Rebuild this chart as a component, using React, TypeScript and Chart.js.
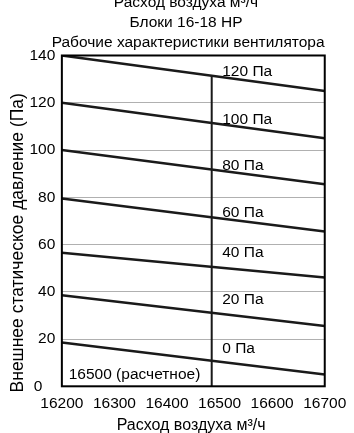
import React, { useEffect, useRef } from "react";
import { Chart, registerables } from "chart.js";

Chart.register(...registerables);

const titleLines = ["   Расход воздуха м³/ч", "   Блоки 16-18 HP", "    Рабочие характеристики вентилятора"];
const xAxisTitle = "Расход воздуха м³/ч ";
const yAxisTitle = "Внешнее статическое давление (Па)";
const xTicks = [16200, 16300, 16400, 16500, 16600, 16700];
const yTicks = [0, 20, 40, 60, 80, 100, 120, 140];
const flowRange = [16200, 16700];
const pressureLabels = ["120 Па", "100 Па", "80 Па", "60 Па", "40 Па", "20 Па", "0 Па"];
const startPressure = [140, 120, 100, 79.5, 56.5, 38.5, 18.5];
const endPressure = [125, 105, 85.5, 65.5, 46, 25.5, 5];
const labelPressure = [133, 113, 93.5, 73.5, 56.5, 36.5, 16];
const labelFlow = 16505;
const designFlow = 16485;
const designTop = 131.5;
const designLabel = "16500 (расчетное)";
const designLabelFlow = 16213;
const designLabelPressure = 4.7;

const FONT = "'Liberation Sans', Arial, sans-serif";

const textPlugin = {
  id: "textLabels",
  afterDatasetsDraw(chart: any) {
    const { ctx, scales } = chart;
    const x = scales.x;
    const y = scales.y;
    ctx.save();
    ctx.fillStyle = "#000";
    ctx.font = `15.5px ${FONT}`;
    ctx.textAlign = "left";
    ctx.textBaseline = "middle";
    pressureLabels.forEach((t, i) => {
      ctx.fillText(t, x.getPixelForValue(labelFlow), y.getPixelForValue(labelPressure[i]));
    });
    ctx.fillText(designLabel, x.getPixelForValue(designLabelFlow), y.getPixelForValue(designLabelPressure));
    ctx.restore();
  },
  afterDraw(chart: any) {
    const { ctx, chartArea } = chart;
    ctx.save();
    ctx.strokeStyle = "#000";
    ctx.lineWidth = 2;
    ctx.strokeRect(chartArea.left, chartArea.top, chartArea.right - chartArea.left, chartArea.bottom - chartArea.top);
    ctx.restore();
  },
};

export default function App() {
  const ref = useRef<HTMLCanvasElement>(null);
  useEffect(() => {
    if (!ref.current) return;
    const datasets: any[] = pressureLabels.map((label, i) => ({
      label,
      data: [
        { x: flowRange[0], y: startPressure[i] },
        { x: flowRange[1], y: endPressure[i] },
      ],
      borderColor: "#1a1a1a",
      borderWidth: 2.5,
      pointRadius: 0,
      fill: false,
    }));
    datasets.push({
      label: "design",
      data: [
        { x: designFlow, y: 0 },
        { x: designFlow, y: designTop },
      ],
      borderColor: "#1a1a1a",
      borderWidth: 2,
      pointRadius: 0,
      fill: false,
    });
    const chart = new Chart(ref.current, {
      type: "line",
      data: { datasets },
      options: {
        animation: false,
        responsive: false,
        maintainAspectRatio: false,
        layout: { padding: { left: 4, right: -1, top: 0, bottom: 0 } },
        plugins: {
          legend: { display: false },
          tooltip: { enabled: false },
          title: {
            display: true,
            text: titleLines,
            color: "#000",
            font: { family: FONT, size: 15.5, weight: "normal", lineHeight: 1.29 },
            padding: { top: 5, bottom: 2.5 },
          },
        },
        scales: {
          x: {
            type: "linear",
            min: flowRange[0],
            max: flowRange[1],
            afterBuildTicks: (s: any) => {
              s.ticks = xTicks.map((v) => ({ value: v }));
            },
            ticks: {
              color: "#000",
              font: { family: FONT, size: 15.5 },
              padding: 7.7,
              maxRotation: 0,
              callback: (v: any) => String(v),
            },
            grid: { display: false, drawTicks: false },
            border: { display: false },
            title: {
              display: true,
              text: xAxisTitle,
              color: "#000",
              font: { family: FONT, size: 16 },
              padding: { top: -4.5, bottom: 0 },
            },
          },
          y: {
            type: "linear",
            min: 0,
            max: 140,
            afterBuildTicks: (s: any) => {
              s.ticks = yTicks.map((v) => ({ value: v }));
            },
            ticks: {
              color: "#000",
              font: { family: FONT, size: 15.5 },
              padding: 6.5,
              callback: (v: any) => (v === 0 ? "0   " : String(v)),
            },
            grid: { color: "#b0b0b0", lineWidth: 1, drawTicks: false },
            border: { display: false },
            title: {
              display: true,
              text: yAxisTitle + "         ",
              color: "#000",
              font: { family: FONT, size: 17.5 },
              padding: { top: 3.5, bottom: -5.5 },
            },
          },
        },
      },
      plugins: [textPlugin],
    } as any);
    return () => chart.destroy();
  }, []);
  return (
    <div style={{ position: "fixed", left: 0, top: -12, width: 354, height: 447, background: "#fff" }}>
      <canvas ref={ref} width={354} height={447} style={{ width: 354, height: 447, display: "block" }} />
    </div>
  );
}
